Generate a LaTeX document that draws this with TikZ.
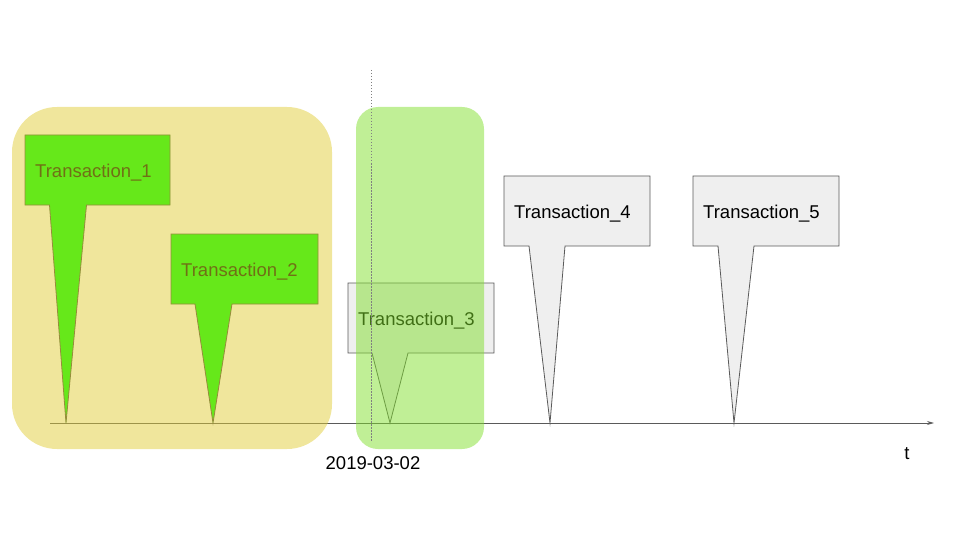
\documentclass[tikz,border=0pt]{standalone}
\usepackage{fontspec}
\setmainfont{Liberation Sans}
\usetikzlibrary{arrows.meta}
\definecolor{yel}{RGB}{225,205,57}
\definecolor{grn}{RGB}{129,223,45}
\definecolor{cgreen}{RGB}{102,232,26}
\definecolor{olivebd}{RGB}{150,140,60}
\definecolor{olivetx}{RGB}{112,112,22}
\definecolor{gfill}{RGB}{239,239,239}
\definecolor{gbd}{RGB}{90,90,90}
\tikzset{
  greencall/.style={fill=cgreen,draw=olivebd,line width=0.8pt},
  graycall/.style={fill=gfill,draw=gbd,line width=0.8pt},
  lbl/.style={anchor=base west,inner sep=0pt,font=\fontsize{18.5}{22}\selectfont},
  axisline/.style={draw=gbd,line width=0.9pt,-{Stealth[length=7pt,width=4pt]}},
  region/.style={draw=none,fill opacity=0.5},
}
\newcommand\mycallout[8]{\path[#8] (#1,#2) -- (#3,#2) -- (#3,#4) -- (#6,#4) -- (#7,423) -- (#5,#4) -- (#1,#4) -- cycle;}
\begin{document}
\begin{tikzpicture}[x=1pt,y=-1pt]
\useasboundingbox (0,0) rectangle (960,540);
% axis
\coordinate (axstart) at (50,423);
\coordinate (axend) at (934,423);
\draw[axisline] (axstart) -- (axend);
% Transaction 3 (under green region)
\mycallout{348}{283}{494}{353}{372}{408}{390}{graycall}
\node[lbl] (t3) at (358,325.5) {Transaction\_3};
% yellow region
\path[region,fill=yel,rounded corners=45pt] (12,107) rectangle (332,449);
% green callouts
\mycallout{25}{135}{170}{205}{49.5}{86.5}{66}{greencall}
\node[lbl,text=olivetx] (t1) at (35,178) {Transaction\_1};
\mycallout{171}{234}{318}{304}{195}{232}{213}{greencall}
\node[lbl,text=olivetx] (t2) at (181,276.5) {Transaction\_2};
% green region
\path[region,fill=grn,rounded corners=22pt] (356,107) rectangle (484,449);
% dotted date line
\coordinate (dtop) at (371,70);
\coordinate (dbot) at (371,441);
\draw[gray,line width=0.6pt,dash pattern=on 1.5pt off 1.5pt] (dtop) -- (dbot);
% gray callouts
\mycallout{504}{176}{650}{246}{529}{565}{550}{graycall}
\node[lbl] (t4) at (514,218.5) {Transaction\_4};
\mycallout{693}{176}{839}{246}{718}{754}{734}{graycall}
\node[lbl] (t5) at (703,218.5) {Transaction\_5};
% labels
\node[font=\fontsize{18.5}{22}\selectfont,inner sep=0pt] (date) at (373,463) {2019-03-02};
\node[font=\fontsize{18.5}{22}\selectfont,inner sep=0pt] (tlab) at (907,454) {t};
\end{tikzpicture}
\end{document}
